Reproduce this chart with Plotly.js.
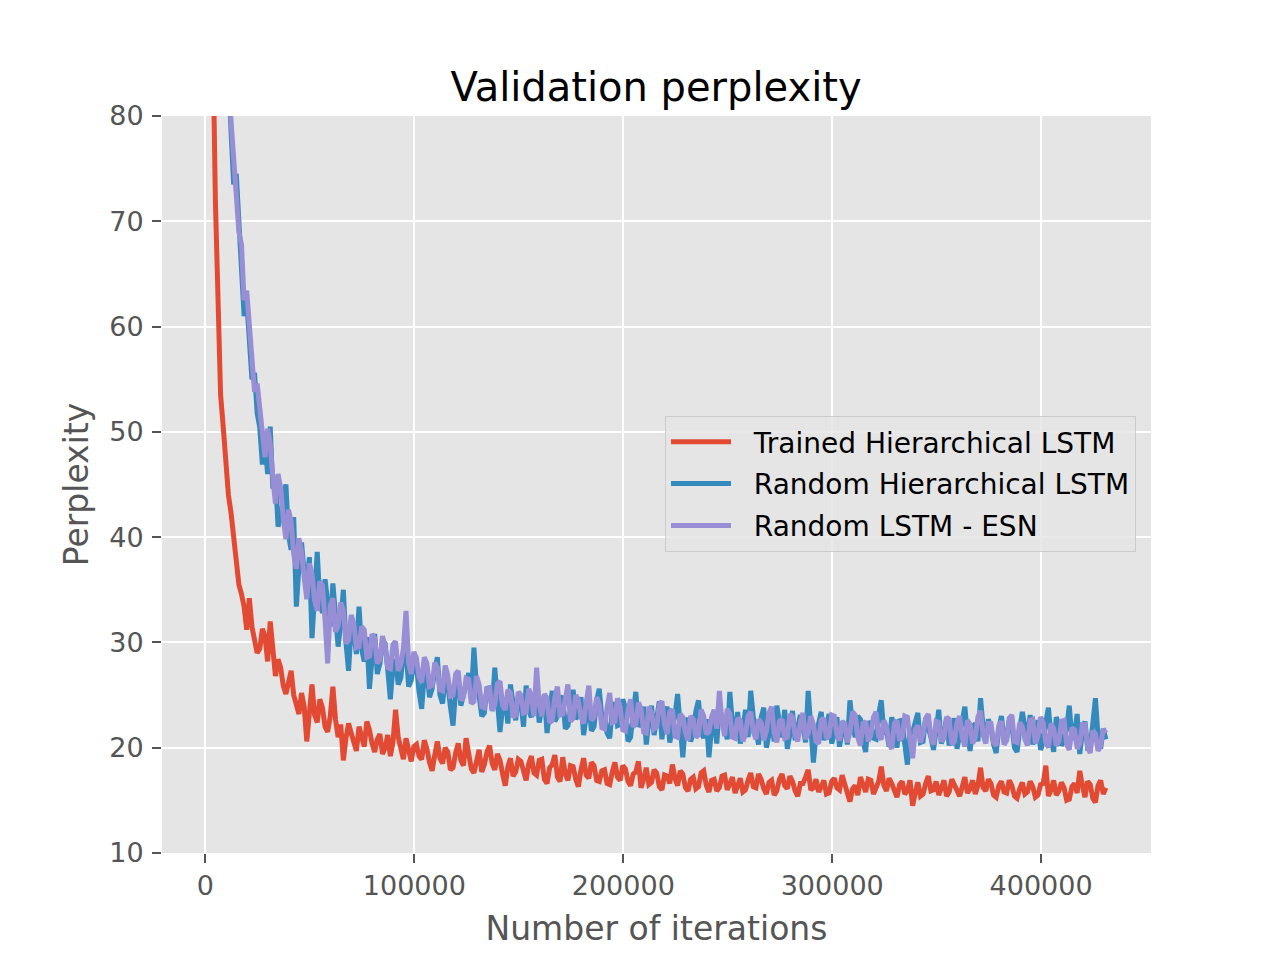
<!DOCTYPE html>
<html>
<head>
<meta charset="utf-8">
<script src="https://cdn.plot.ly/plotly-3.0.1.min.js"></script>
<style>
  html, body { margin: 0; padding: 0; background: #ffffff; }
  #chart { width: 1280px; height: 960px; }
</style>
</head>
<body>
<div id="chart"></div>
<script>
// validation was run every 1250 iterations, first point at 1000
var iterStart = 1000;
var iterStep = 1250;

var seriesNames = ['Trained Hierarchical LSTM', 'Random Hierarchical LSTM', 'Random LSTM - ESN'];
var seriesColors = ['#E24A33', '#348ABD', '#988ED5'];

var trainedHier = [
  150, 115, 88, 72, 60, 53.5, 50.5, 47.2, 44, 42.3,
  40.2, 37.4, 35.5, 34.6, 33.4, 31.2, 34.2, 31.5, 30.1, 29.0,
  29.4, 31.3, 30.6, 28.2, 32.0, 28.9, 26.8, 28.4, 27.6, 25.9,
  25.1, 26.2, 27.3, 25.0, 24.0, 23.2, 25.2, 23.9, 20.6, 22.8,
  26.0, 23.1, 22.4, 24.6, 23.8, 22.0, 21.5, 23.0, 25.8, 22.7,
  21.0, 22.2, 18.8, 20.9, 22.3, 21.4, 20.6, 19.7, 22.0, 21.0,
  20.1, 22.5, 21.7, 20.4, 19.6, 20.8, 21.3, 19.4, 20.0, 21.2,
  19.2, 20.5, 23.6, 21.0, 19.8, 18.9, 20.9, 19.5, 18.7, 20.1,
  20.3, 19.2, 18.9, 20.7, 19.9, 18.6, 17.8, 19.3, 20.6, 19.0,
  18.5, 20.0, 19.6, 17.9, 18.1, 19.5, 20.4, 18.8, 18.3, 20.9,
  19.3, 18.0, 17.6, 18.9, 19.8, 17.7, 18.4, 19.6, 20.2, 18.5,
  17.9, 19.4, 18.8, 17.5, 16.4, 18.2, 19.0, 17.3, 17.7, 18.9,
  18.7, 17.8, 16.9, 18.5, 19.2, 17.6, 17.4, 18.8, 18.9, 17.0,
  16.6, 18.1, 18.4, 19.3, 17.2, 16.8, 19.1, 17.5, 16.9, 18.3,
  18.2, 17.0, 16.3, 17.9, 19.0, 17.4, 17.1, 18.6, 18.3, 16.9,
  16.8, 17.8, 17.9, 16.6, 16.5, 17.7, 18.6, 17.2, 16.9, 18.3,
  18.0, 16.8, 16.4, 17.5, 17.7, 18.7, 16.2, 17.0, 18.1, 16.5,
  16.7, 17.9, 17.6, 16.3, 16.0, 17.4, 17.3, 16.6, 18.4, 17.1,
  16.4, 17.8, 17.5, 16.2, 15.9, 17.0, 17.2, 16.1, 16.3, 17.6,
  17.8, 16.4, 15.8, 16.9, 17.0, 15.9, 16.2, 17.3, 17.4, 16.0,
  16.6, 17.2, 15.7, 16.5, 17.1, 15.8, 16.0, 16.9, 17.6, 16.3,
  16.2, 17.5, 17.0, 16.1, 15.6, 16.7, 16.9, 15.5, 15.9, 17.0,
  17.5, 16.4, 16.1, 17.3, 16.8, 15.9, 15.4, 16.6, 16.6, 17.2,
  17.9, 16.0, 16.2, 17.0, 15.8, 16.3, 16.9, 15.6, 15.7, 16.8,
  17.1, 16.2, 16.0, 17.4, 16.7, 15.7, 14.9, 16.1, 16.4, 15.5,
  17.2, 16.6, 15.8, 17.0, 16.9, 15.6, 16.1, 16.8, 18.2, 16.4,
  15.9, 17.1, 16.6, 15.8, 15.3, 16.5, 16.8, 15.6, 15.9, 16.9,
  14.5, 15.7, 16.7, 15.4, 15.6, 16.6, 17.3, 15.9, 16.0, 16.8,
  15.5, 16.2, 16.9, 15.4, 15.8, 17.0, 16.5, 15.9, 15.4, 16.3,
  17.2, 15.7, 16.1, 16.9, 15.6, 16.4, 18.1, 16.2, 15.9, 17.0,
  16.6, 15.5, 15.3, 16.4, 16.8, 15.8, 15.7, 16.9, 16.4, 15.4,
  15.2, 16.1, 16.7, 15.6, 15.8, 16.8, 16.3, 15.3, 15.5, 16.5,
  16.6, 18.3, 15.4, 16.0, 16.9, 15.5, 15.9, 16.7, 16.2, 15.0,
  15.1, 16.3, 16.6, 15.7, 17.8, 16.4, 15.3, 16.8, 16.5, 15.2,
  14.8, 16.4, 16.9, 15.6, 16.2
];

var randomHier = [
  300, 250, 200, 170, 140, 118, 102, 92, 84, 78.5,
  73.5, 74.5, 70.0, 64.0, 61.0, 62.5, 59.0, 55.0, 55.6, 51.8,
  50.4, 46.9, 49.2, 46.0, 50.5, 44.6, 45.8, 41.0, 42.0, 43.5,
  45.0, 40.2, 38.8, 41.9, 33.4, 37.2, 39.5, 36.6, 35.6, 38.1,
  30.4, 34.5, 38.6, 33.9, 32.8, 36.0, 34.0, 31.5, 35.6, 32.4,
  29.6, 31.8, 35.0, 30.0, 27.3, 31.4, 30.9, 28.9, 33.4, 29.4,
  28.2, 30.5, 25.6, 28.5, 30.8, 27.0, 28.0, 30.2, 29.9, 27.4,
  24.6, 27.7, 28.4, 26.0, 26.6, 29.0, 29.3, 25.8, 26.4, 28.2,
  27.8, 25.3, 23.7, 26.9, 27.2, 24.8, 25.6, 27.4, 28.6, 25.0,
  24.2, 26.6, 26.1, 23.9, 22.1, 25.5, 26.7, 24.0, 25.0, 26.3,
  27.1, 24.6, 29.5, 25.7, 24.9, 23.0, 23.3, 25.8, 25.4, 23.6,
  27.6, 24.4, 21.5, 23.9, 24.6, 22.3, 26.0, 24.2, 22.6, 24.9,
  24.3, 22.0, 25.9, 23.5, 22.9, 24.8, 25.2, 22.4, 23.7, 25.0,
  21.4, 23.2, 25.4, 22.5, 23.0, 24.6, 24.9, 21.8, 22.1, 23.7,
  25.5, 22.7, 23.3, 24.8, 21.2, 23.0, 24.2, 21.6, 22.0, 24.5,
  25.6, 22.8, 23.1, 21.4, 20.9, 23.6, 24.3, 22.1, 22.2, 24.6,
  23.8, 20.6, 21.0, 23.3, 25.3, 22.0, 22.4, 23.9, 20.3, 22.5,
  24.0, 21.2, 22.6, 24.4, 20.8, 22.9, 23.9, 20.5, 21.9, 23.1,
  25.1, 21.7, 19.1, 22.4, 22.8, 20.6, 21.4, 23.5, 24.5, 21.6,
  20.9, 22.7, 19.1, 21.9, 22.5, 20.4, 24.1, 22.6, 22.0, 20.8,
  25.3, 22.3, 21.2, 23.4, 20.4, 21.8, 23.6, 21.0, 25.4, 22.9,
  21.5, 20.3, 22.9, 23.8, 20.0, 21.7, 22.6, 20.6, 24.0, 22.4,
  21.0, 23.6, 19.9, 21.3, 23.5, 20.7, 21.7, 23.1, 22.0, 20.5,
  25.4, 22.6, 18.6, 21.2, 22.3, 23.4, 20.7, 21.8, 23.2, 20.4,
  21.3, 22.9, 20.1, 21.5, 22.4, 20.3, 24.5, 22.1, 21.0, 23.0,
  22.7, 20.6, 19.6, 22.5, 22.1, 20.9, 20.8, 23.2, 24.5, 21.3,
  21.6, 20.1, 22.9, 21.8, 20.0, 22.7, 22.4, 20.3, 18.4, 21.6,
  21.5, 22.4, 23.3, 20.5, 20.6, 22.8, 22.0, 21.0, 19.8, 22.2,
  23.6, 20.4, 21.1, 22.9, 20.2, 21.5, 22.8, 19.9, 21.4, 23.0,
  23.9, 21.2, 19.7, 22.0, 22.3, 20.6, 24.7, 21.9, 20.8, 22.7,
  21.9, 20.3, 19.5, 21.8, 23.0, 20.9, 20.9, 22.6, 22.1, 20.0,
  19.6, 21.7, 23.4, 22.0, 21.0, 23.1, 20.3, 21.4, 22.6, 19.8,
  20.5, 22.4, 23.8, 21.0, 19.6, 22.9, 22.2, 20.2, 20.7, 21.9,
  24.0, 20.8, 21.3, 23.2, 19.4, 21.5, 22.5, 20.0, 20.1, 22.3,
  24.7, 21.1, 19.9, 21.8, 20.8
];

var randomEsn = [
  300, 250, 200, 170, 140, 118, 102, 92, 84, 79.5,
  75.5, 71.5, 69.0, 67.8, 62.5, 63.4, 60.2, 56.5, 53.8, 54.6,
  51.9, 49.2, 47.6, 50.3, 48.9, 45.6, 43.2, 46.0, 44.7, 41.8,
  39.8, 42.6, 41.5, 38.4, 37.0, 39.9, 38.6, 36.2, 34.1, 37.5,
  36.5, 34.0, 33.0, 35.8, 35.4, 32.1, 28.0, 33.5, 34.2, 31.0,
  31.6, 33.8, 33.0, 29.9, 30.2, 32.6, 31.8, 29.5, 29.6, 31.5,
  31.2, 28.6, 28.7, 30.8, 30.4, 28.0, 28.4, 30.6, 29.6, 27.6,
  27.5, 29.8, 30.1, 27.3, 27.9, 29.4, 33.0, 28.0, 27.0, 29.1,
  28.5, 26.7, 26.2, 28.6, 28.0, 25.8, 25.9, 28.1, 27.6, 25.5,
  25.4, 27.8, 26.9, 24.9, 25.0, 27.0, 27.3, 24.5, 24.8, 26.6,
  26.5, 24.2, 24.4, 26.8, 26.0, 23.9, 23.8, 25.6, 25.7, 23.5,
  24.1, 26.1, 26.3, 24.0, 23.6, 25.5, 25.2, 22.9, 23.1, 25.3,
  25.0, 23.3, 23.4, 25.6, 24.9, 23.0, 27.6, 24.2, 23.0, 25.1,
  24.7, 22.4, 22.6, 24.8, 25.8, 23.1, 23.2, 24.6, 26.0, 22.5,
  22.8, 25.0, 24.5, 22.9, 22.3, 24.3, 25.9, 22.6, 22.9, 24.8,
  24.1, 21.9, 21.8, 23.8, 25.2, 22.4, 22.5, 24.7, 23.9, 21.7,
  21.6, 23.5, 24.6, 22.0, 22.2, 24.3, 23.7, 21.5, 21.4, 23.9,
  23.3, 21.8, 22.0, 24.1, 24.4, 22.2, 21.3, 23.4, 23.6, 21.1,
  21.0, 23.2, 22.9, 21.4, 20.7, 23.0, 22.7, 21.0, 21.2, 23.6,
  23.0, 21.3, 21.5, 22.9, 23.6, 21.8, 25.4, 22.5, 21.1, 23.7,
  23.2, 21.0, 20.9, 22.8, 22.6, 20.6, 21.3, 23.0, 23.4, 21.5,
  20.8, 22.7, 22.4, 20.7, 21.6, 23.3, 23.9, 21.4, 20.5, 22.5,
  22.7, 20.9, 21.0, 23.2, 22.9, 21.2, 20.6, 22.4, 23.3, 20.8,
  21.4, 23.0, 22.2, 20.6, 20.4, 22.6, 22.8, 20.9, 21.1, 23.1,
  23.0, 21.3, 20.7, 22.5, 22.3, 20.5, 21.5, 23.4, 23.1, 21.0,
  20.2, 22.3, 22.5, 20.6, 21.2, 22.9, 23.4, 21.1, 20.8, 22.6,
  22.0, 20.4, 19.9, 22.3, 22.6, 20.7, 21.0, 23.0, 22.9, 20.8,
  19.0, 21.7, 22.1, 20.5, 21.3, 22.8, 23.2, 21.0, 20.3, 22.5,
  22.4, 20.6, 20.9, 22.9, 22.7, 20.3, 20.6, 22.4, 23.0, 21.0,
  20.1, 22.6, 22.2, 20.4, 21.0, 22.9, 23.5, 21.2, 20.4, 22.3,
  22.3, 20.5, 20.2, 22.1, 22.5, 20.3, 20.7, 22.8, 23.1, 20.6,
  20.5, 22.4, 22.0, 20.8, 20.2, 22.6, 22.7, 20.4, 21.1, 22.9,
  22.4, 20.5, 20.0, 22.3, 21.8, 20.2, 20.6, 22.5, 22.6, 20.3,
  19.8, 21.9, 21.7, 19.9, 20.4, 22.2, 22.2, 20.1, 19.5, 21.6,
  21.3, 19.7, 20.2, 21.8, 21.4
];

var xTickVals = [0, 100000, 200000, 300000, 400000];
var yTickVals = [10, 20, 30, 40, 50, 60, 70, 80];

var allSeries = [trainedHier, randomHier, randomEsn];
var traces = allSeries.map(function (vals, k) {
  return {
    type: 'scatter',
    mode: 'lines',
    name: '\u00a0\u00a0' + seriesNames[k],
    x0: iterStart,
    dx: iterStep,
    y: vals,
    line: { color: seriesColors[k], width: 5 },
    legendgroup: 'g' + k
  };
});

var tickFont = { family: 'DejaVu Sans', size: 27, color: '#555555' };
var labelFont = { family: 'DejaVu Sans', size: 33, color: '#555555' };

var layout = {
  width: 1280,
  height: 960,
  paper_bgcolor: '#ffffff',
  plot_bgcolor: '#E5E5E5',
  font: { family: 'DejaVu Sans', color: '#555555' },
  margin: { l: 162, r: 129, t: 116, b: 107, pad: 0 },
  title: {
    text: 'Validation perplexity',
    font: { family: 'DejaVu Sans', size: 40, color: '#000000' },
    x: 0.5125, xanchor: 'center',
    y: 0.909, yanchor: 'middle'
  },
  xaxis: {
    range: [-20800, 452600],
    tickvals: xTickVals,
    ticktext: xTickVals.map(String),
    tickfont: tickFont,
    ticks: 'outside', ticklen: 9, tickwidth: 2, tickcolor: '#555555',
    showgrid: true, gridcolor: '#ffffff', gridwidth: 2,
    zeroline: false, showline: false,
    title: { text: 'Number of iterations', font: labelFont, standoff: 16 }
  },
  yaxis: {
    range: [10, 80],
    tickvals: yTickVals,
    tickfont: tickFont,
    ticks: 'outside', ticklen: 9, tickwidth: 2, tickcolor: '#555555',
    ticklabelstandoff: 3,
    showgrid: true, gridcolor: '#ffffff', gridwidth: 2,
    zeroline: false, showline: false,
    title: { text: 'Perplexity', font: labelFont, standoff: 10 }
  },
  showlegend: true,
  legend: {
    x: 0.5086, y: 0.593, xanchor: 'left', yanchor: 'top',
    bgcolor: 'rgba(229,229,229,0.8)',
    bordercolor: '#cccccc', borderwidth: 1,
    font: { family: 'DejaVu Sans', size: 28, color: '#000000' },
    traceorder: 'grouped', tracegroupgap: 2.5,
    itemwidth: 60
  }
};

Plotly.newPlot('chart', traces, layout, { displayModeBar: false, staticPlot: true });
</script>
</body>
</html>
